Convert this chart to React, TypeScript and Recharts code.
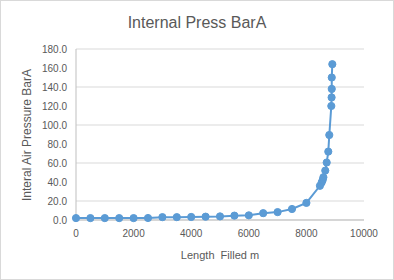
import { ScatterChart, Scatter, XAxis, YAxis, CartesianGrid } from 'recharts'

// length filled (m) and internal pressure (BarA)
const lengths = [
  0, 500, 1000, 1500, 2000, 2500, 3000, 3500, 4000, 4500, 5000, 5500, 6000, 6500, 7000, 7500, 8000,
  8470, 8530, 8565, 8590, 8655, 8705, 8760, 8795, 8865, 8875, 8880, 8880, 8900,
]
const pressures = [
  2.0, 2.0, 2.0, 2.0, 2.0, 2.1, 3.0, 3.0, 3.2, 3.5, 3.8, 4.6, 4.9, 7.2, 8.3, 11.6, 18.0,
  36.0, 39.5, 42.0, 45.0, 52.0, 60.5, 72.0, 89.5, 120.0, 129.0, 138.0, 150.0, 164.0,
]
const xTicks = [0, 2000, 4000, 6000, 8000, 10000]
const yTicks = [0, 20, 40, 60, 80, 100, 120, 140, 160, 180]

const data = lengths.map((x, i) => ({ x, y: pressures[i] }))

const textColor = '#595959'
const font = '"Liberation Sans", Arial, sans-serif'

const Dot = (props: any) => (
  <circle cx={props.cx} cy={props.cy} r={3.6} fill="#5B9BD5" stroke="#5B9BD5" />
)

export default function App() {
  return (
    <div style={{ position: 'absolute', left: 0, top: 0, width: 394, height: 280, background: '#fff', fontFamily: font }}>
      <ScatterChart width={394} height={280} margin={{ top: 49, right: 30, bottom: 0, left: 0 }}>
        <CartesianGrid vertical={false} stroke="#D9D9D9" />
        <XAxis
          type="number"
          dataKey="x"
          domain={[0, 10000]}
          ticks={xTicks}
          height={60}
          tickLine={false}
          axisLine={{ stroke: '#BFBFBF' }}
          tick={{ fontSize: 10, fill: textColor, fontFamily: font }}
          tickMargin={4}
        />
        <YAxis
          type="number"
          dataKey="y"
          domain={[0, 180]}
          ticks={yTicks}
          width={76}
          tickLine={false}
          axisLine={{ stroke: '#BFBFBF' }}
          tickFormatter={(v: number) => v.toFixed(1)}
          tick={{ fontSize: 10, fill: textColor, fontFamily: font }}
          tickMargin={3}
        />
        <Scatter
          data={data}
          line={{ stroke: '#5B9BD5', strokeWidth: 2 }}
          lineType="joint"
          shape={Dot}
          isAnimationActive={false}
        />
      </ScatterChart>
      <div style={{ position: 'absolute', left: 0, top: 14, width: 394, textAlign: 'center', fontSize: 16, color: textColor }}>
        Internal Press BarA
      </div>
      <div style={{ position: 'absolute', left: 76, top: 249, width: 288, textAlign: 'center', fontSize: 11, color: textColor, whiteSpace: 'pre' }}>
        Length  Filled m
      </div>
      <div style={{ position: 'absolute', left: 27 - 100, top: 135 - 8, width: 200, height: 16, lineHeight: '16px', textAlign: 'center', fontSize: 12, color: textColor, transform: 'rotate(-90deg)' }}>
        Interal Air Pressure BarA
      </div>
      <div style={{ position: 'absolute', left: 0, top: 0, width: 394, height: 280, boxSizing: 'border-box', border: '1px solid #D9D9D9', pointerEvents: 'none' }} />
    </div>
  )
}
